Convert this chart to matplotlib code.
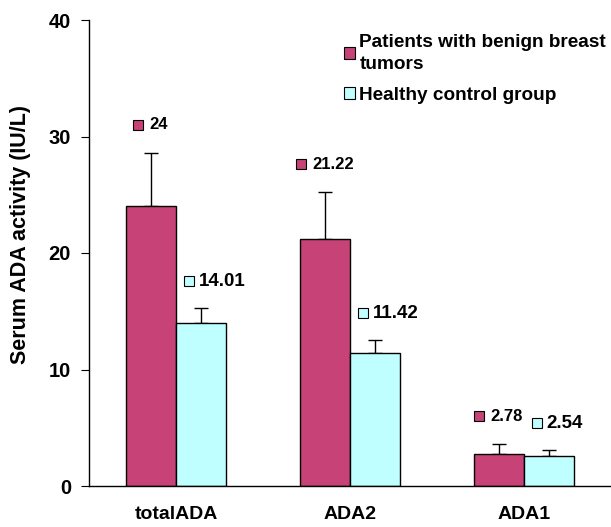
"""Serum ADA activity in patients with benign breast tumors vs healthy controls."""
import matplotlib
matplotlib.use("Agg")
import matplotlib.pyplot as plt
import numpy as np
from matplotlib.patches import Patch

plt.rcParams["font.family"] = ["Liberation Sans", "DejaVu Sans"]
plt.rcParams["font.weight"] = "bold"

categories = ["totalADA", "ADA2", "ADA1"]
patients = [24.0, 21.22, 2.78]
patients_err = [4.6, 4.0, 0.8]
controls = [14.01, 11.42, 2.54]
controls_err = [1.27, 1.1, 0.55]
patient_labels = ["24", "21.22", "2.78"]
control_labels = ["14.01", "11.42", "2.54"]
series_names = ["Patients with benign breast\ntumors", "Healthy control group"]

PINK = "#C64277"
CYAN = "#C0FFFF"

fig = plt.figure(figsize=(6.11, 5.27), dpi=100)
ax = fig.add_axes([89 / 611, 41 / 527, 522 / 611, 466 / 527])

x = np.arange(len(categories))
w = 0.29
ax.bar(x - w / 2, patients, w, color=PINK, edgecolor="black", linewidth=1.0, zorder=2)
ax.bar(x + w / 2, controls, w, color=CYAN, edgecolor="black", linewidth=1.0, zorder=2)
ax.errorbar(x - w / 2, patients, yerr=[np.zeros(3), patients_err], fmt="none",
            ecolor="black", elinewidth=1.0, capsize=5, capthick=1.0, zorder=1)
ax.errorbar(x + w / 2, controls, yerr=[np.zeros(3), controls_err], fmt="none",
            ecolor="black", elinewidth=1.0, capsize=5, capthick=1.0, zorder=1)

ax.set_xlim(-0.5, 2.5)
ax.set_ylim(0, 40)

# value labels: small square + number above each error bar
sq_pt, gap_pt = 7.4, 4.5
renderer = fig.canvas.get_renderer()
px_per_pt = fig.dpi / 72.0
for i in range(len(categories)):
    # patients: square + text centred over the bar
    yp = patients[i] + patients_err[i] + 2.4
    t = ax.annotate(patient_labels[i], (x[i] - w / 2, yp),
                    xytext=((sq_pt + gap_pt) / 2, 0), textcoords="offset points",
                    va="center", ha="center", fontsize=12, fontweight="bold")
    left_px = t.get_window_extent(renderer).x0
    sq_px = left_px - (gap_pt + sq_pt / 2) * px_per_pt
    sq_x = ax.transData.inverted().transform((sq_px, 0))[0]
    ax.plot(sq_x, yp, marker="s", ms=sq_pt, mfc=PINK, mec="black", mew=0.8, clip_on=False)
    # controls: square just inside the bar's left edge
    yc = controls[i] + controls_err[i] + 2.3
    xc = x[i] + 0.075
    ax.plot(xc, yc, marker="s", ms=sq_pt + 0.4, mfc=CYAN, mec="black", mew=0.8, clip_on=False)
    ax.annotate(control_labels[i], (xc, yc), xytext=(7, 0), textcoords="offset points",
                va="center", ha="left", fontsize=13.5, fontweight="bold")

ax.set_yticks([0, 10, 20, 30, 40])
ax.set_xticks(x)
ax.set_xticklabels(categories, fontsize=14, fontweight="bold")
ax.tick_params(axis="x", length=0, pad=14.5)
ax.tick_params(axis="y", direction="out", length=6, labelsize=14.5, pad=7)
for lbl in ax.get_yticklabels():
    lbl.set_fontweight("bold")
ax.set_ylabel("Serum ADA activity (IU/L)", fontsize=15.5, fontweight="bold")
ax.yaxis.set_label_coords(-0.112, 0.539)
for s in ["top", "right"]:
    ax.spines[s].set_visible(False)
ax.spines["left"].set_linewidth(1.0)
ax.spines["bottom"].set_linewidth(1.0)

handles = [Patch(facecolor=PINK, edgecolor="black", linewidth=0.8),
           Patch(facecolor=CYAN, edgecolor="black", linewidth=0.8)]
leg = fig.legend(handles, series_names, loc="upper left",
                 bbox_to_anchor=(327 / 611, 1 - 17 / 527),
                 frameon=False, handlelength=0.58, handleheight=0.58, handletextpad=0.22,
                 labelspacing=0.75, prop={"size": 13.7, "weight": "bold"})
for t in leg.get_texts():
    t.set_linespacing(1.35)

fig.savefig("out.png", dpi=100)
